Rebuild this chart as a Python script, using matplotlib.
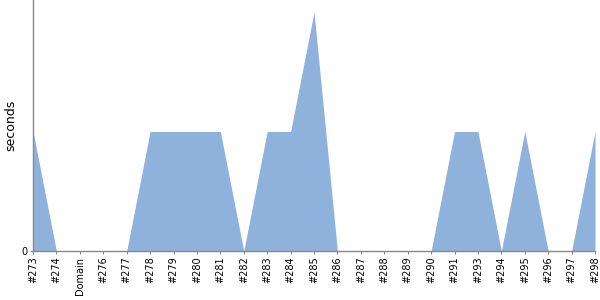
import matplotlib
matplotlib.use("Agg")
import matplotlib.pyplot as plt

labels = ["#273", "#274", "Domain", "#276", "#277", "#278", "#279", "#280", "#281",
          "#282", "#283", "#284", "#285", "#286", "#287", "#288", "#289", "#290",
          "#291", "#293", "#294", "#295", "#296", "#297", "#298"]
seconds = [1, 0, 0, 0, 0, 1, 1, 1, 1, 0, 1, 1, 2, 0, 0, 0, 0, 0, 1, 1, 0, 1, 0, 0, 1]

fig = plt.figure(figsize=(6, 3), dpi=100)
ax = fig.add_axes([0.055, 0.1633, 0.9367, 0.8367])
x = list(range(len(labels)))
ax.fill_between(x, 0, seconds, color="#8fb2dc", linewidth=0)
ax.set_xlim(0, len(labels) - 1)
ax.set_ylim(0, 2.1)
ax.set_xticks(x)
ax.set_xticklabels(labels, rotation=90, fontsize=7)
ax.set_yticks([0])
ax.set_yticklabels(["0"], fontsize=7)
ax.tick_params(axis="both", length=2, color="#888888", pad=2)
ax.set_ylabel("seconds", fontsize=9)
ax.yaxis.set_label_coords(-0.0285, 0.5)
for s in ["top", "right"]:
    ax.spines[s].set_visible(False)
for s in ["left", "bottom"]:
    ax.spines[s].set_color("#888888")
    ax.spines[s].set_linewidth(1)
fig.savefig("out.png", dpi=100)
